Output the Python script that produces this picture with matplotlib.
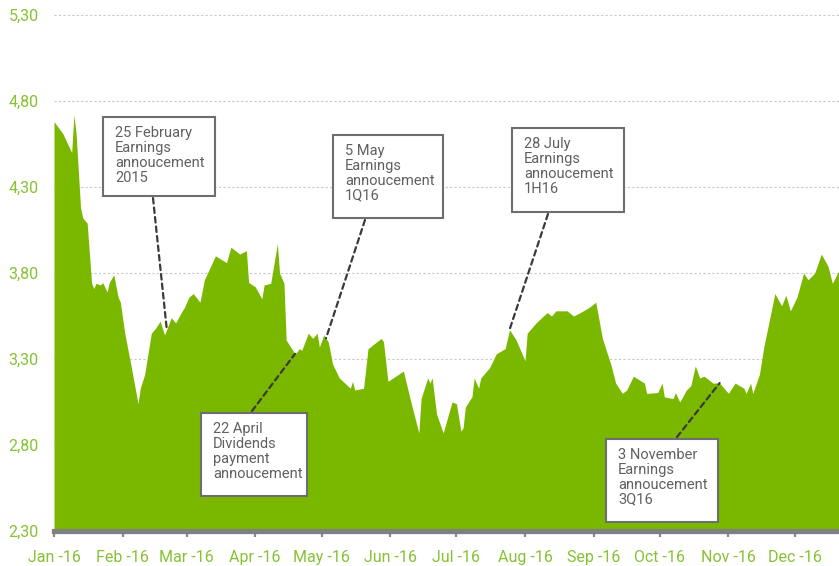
import matplotlib
matplotlib.use("Agg")
import matplotlib.pyplot as plt
import matplotlib.patches as mpatches
import numpy as np
import pandas as pd

# share price
dates = pd.to_datetime([
    "2016-01-01", "2016-01-05", "2016-01-09", "2016-01-10", "2016-01-11", "2016-01-13",
    "2016-01-14", "2016-01-16", "2016-01-18", "2016-01-19", "2016-01-20", "2016-01-22",
    "2016-01-23", "2016-01-25", "2016-01-26", "2016-01-28", "2016-01-30", "2016-01-31",
    "2016-02-02", "2016-02-05", "2016-02-08", "2016-02-09", "2016-02-11", "2016-02-14",
    "2016-02-16", "2016-02-18", "2016-02-20", "2016-02-23", "2016-02-25", "2016-02-28",
    "2016-02-29", "2016-03-02", "2016-03-04", "2016-03-07", "2016-03-09", "2016-03-14",
    "2016-03-19", "2016-03-21", "2016-03-25", "2016-03-28", "2016-03-29", "2016-04-01",
    "2016-04-04", "2016-04-05", "2016-04-08", "2016-04-11", "2016-04-12", "2016-04-14",
    "2016-04-15", "2016-04-19", "2016-04-21", "2016-04-22", "2016-04-25", "2016-04-27",
    "2016-04-29", "2016-04-30", "2016-05-02", "2016-05-04", "2016-05-06", "2016-05-09",
    "2016-05-14", "2016-05-15", "2016-05-16", "2016-05-20", "2016-05-22", "2016-05-28",
    "2016-05-29", "2016-05-31", "2016-06-07", "2016-06-10", "2016-06-14", "2016-06-15",
    "2016-06-18", "2016-06-19", "2016-06-20", "2016-06-22", "2016-06-25", "2016-06-29",
    "2016-07-01", "2016-07-03", "2016-07-04", "2016-07-05", "2016-07-08", "2016-07-09",
    "2016-07-11", "2016-07-12", "2016-07-16", "2016-07-19", "2016-07-23", "2016-07-25",
    "2016-07-28", "2016-08-01", "2016-08-02", "2016-08-06", "2016-08-11", "2016-08-13",
    "2016-08-15", "2016-08-20", "2016-08-23", "2016-08-26", "2016-08-30", "2016-09-02",
    "2016-09-05", "2016-09-09", "2016-09-11", "2016-09-14", "2016-09-16", "2016-09-19",
    "2016-09-24", "2016-09-25", "2016-09-30", "2016-10-02", "2016-10-03", "2016-10-07",
    "2016-10-08", "2016-10-10", "2016-10-13", "2016-10-15", "2016-10-17", "2016-10-19",
    "2016-10-21", "2016-10-25", "2016-10-28", "2016-11-01", "2016-11-04", "2016-11-08",
    "2016-11-09", "2016-11-11", "2016-11-12", "2016-11-15", "2016-11-17", "2016-11-22",
    "2016-11-25", "2016-11-27", "2016-11-29", "2016-12-02", "2016-12-05", "2016-12-07",
    "2016-12-10", "2016-12-13", "2016-12-16", "2016-12-18", "2016-12-21",
])
prices = [
    4.68, 4.61, 4.50, 4.72, 4.61, 4.18,
    4.12, 4.09, 3.74, 3.71, 3.74, 3.73,
    3.745, 3.69, 3.745, 3.79, 3.66, 3.63,
    3.45, 3.25, 3.04, 3.13, 3.21, 3.45,
    3.48, 3.52, 3.44, 3.54, 3.51, 3.58,
    3.60, 3.66, 3.68, 3.63, 3.76, 3.90,
    3.86, 3.95, 3.91, 3.93, 3.745, 3.72,
    3.65, 3.73, 3.74, 3.97, 3.80, 3.74,
    3.41, 3.33, 3.36, 3.35, 3.45, 3.42,
    3.45, 3.37, 3.44, 3.40, 3.27, 3.19,
    3.13, 3.17, 3.12, 3.13, 3.36, 3.42,
    3.40, 3.17, 3.23, 3.07, 2.87, 3.07,
    3.19, 3.16, 3.19, 2.98, 2.87, 3.05,
    3.04, 2.88, 2.90, 3.02, 3.08, 3.19,
    3.13, 3.19, 3.25, 3.33, 3.36, 3.47,
    3.41, 3.29, 3.45, 3.51, 3.57, 3.55,
    3.58, 3.58, 3.55, 3.57, 3.60, 3.63,
    3.42, 3.26, 3.16, 3.10, 3.12, 3.20,
    3.16, 3.10, 3.105, 3.16, 3.08, 3.07,
    3.105, 3.05, 3.12, 3.145, 3.26, 3.19,
    3.20, 3.16, 3.16, 3.10, 3.16, 3.13,
    3.10, 3.16, 3.10, 3.21, 3.37, 3.68,
    3.61, 3.67, 3.58, 3.66, 3.80, 3.76,
    3.80, 3.91, 3.84, 3.74, 3.815,
]

yticks = [2.30, 2.80, 3.30, 3.80, 4.30, 4.80, 5.30]
ytick_labels = ["2,30", "2,80", "3,30", "3,80", "4,30", "4,80", "5,30"]
month_starts = pd.date_range("2016-01-01", periods=12, freq="MS")
month_labels = ["Jan -16", "Feb -16", "Mar -16", "Apr -16", "May -16", "Jun -16",
                "Jul -16", "Aug -16", "Sep -16", "Oct -16", "Nov -16", "Dec -16"]

# events: label, date the line points at
event_texts = [
    "25 February\nEarnings\nannoucement\n2015",
    "22 April\nDividends\npayment\nannoucement",
    "5 May\nEarnings\nannoucement\n1Q16",
    "28 July\nEarnings\nannoucement\n1H16",
    "3 November\nEarnings\nannoucement\n3Q16",
]
event_dates = pd.to_datetime(["2016-02-21", "2016-04-19", "2016-05-03", "2016-07-25", "2016-10-28"])

green = "#7ab800"
label_green = "#86c232"
W, H = 839, 566

plt.rcParams['font.family'] = ['Roboto', 'DejaVu Sans']
fig = plt.figure(figsize=(W / 100, H / 100), dpi=100)
ax = fig.add_axes([54 / W, 1 - 531 / H, 1 - 54 / W, (531 - 15) / H])

ax.fill_between(dates, prices, 2.30, color=green, linewidth=0, zorder=2)

ax.set_ylim(2.30, 5.30)
ax.set_xlim(pd.Timestamp("2016-01-01"), pd.Timestamp("2016-12-21"))

for yv in yticks[1:]:
    ax.axhline(yv, color="#c8c8c8", lw=0.8, linestyle=(0, (2, 2)), zorder=1, clip_on=False)

ax.set_yticks(yticks)
ax.set_yticklabels(ytick_labels)
ax.set_xticks(month_starts)
ax.set_xticklabels(month_labels)
ax.tick_params(axis="y", length=0, pad=11, labelsize=11.5, labelcolor=label_green)
ax.tick_params(axis="x", direction="out", length=4, width=1.6, color="#8a8a8a",
               pad=10, labelsize=11.5, labelcolor=label_green)

for s in ["top", "right", "left"]:
    ax.spines[s].set_visible(False)
ax.spines["bottom"].set_color("#808080")
ax.spines["bottom"].set_linewidth(3.8)
ax.spines["bottom"].set_zorder(5)

# box layout in figure pixels: left, top, width, height, line start x, line start y
box_layout = [
    (103, 117, 112, 79, 153, 198),
    (201, 413, 106, 83, 252, 411),
    (333, 135, 110, 83, 365, 220),
    (512, 128, 112, 84, 548, 214),
    (606, 439, 112, 83, 677, 437),
]
for text, d, (bx, by, bw, bh, sx, sy) in zip(event_texts, event_dates, box_layout):
    yv = np.interp(d.value, dates.values.astype("int64"), prices)
    ax.annotate("", xy=(d, yv), xycoords="data",
                xytext=(sx, H - sy), textcoords="figure pixels",
                arrowprops=dict(arrowstyle="-", linestyle=(0, (2.5, 1.8)), lw=1.6,
                                color="#3a3a3a", shrinkA=0, shrinkB=0),
                zorder=6)
    rect = mpatches.Rectangle((bx / W, 1 - (by + bh) / H), bw / W, bh / H,
                              transform=fig.transFigure, facecolor="white",
                              edgecolor="#6e6e6e", linewidth=1.5, zorder=7)
    fig.patches.append(rect)
    fig.text((bx + 12) / W, 1 - (by + 9) / H, text, ha="left", va="top",
             fontsize=10.5, color="#606060", linespacing=1.08, zorder=8)

fig.savefig("out.png", dpi=100)
